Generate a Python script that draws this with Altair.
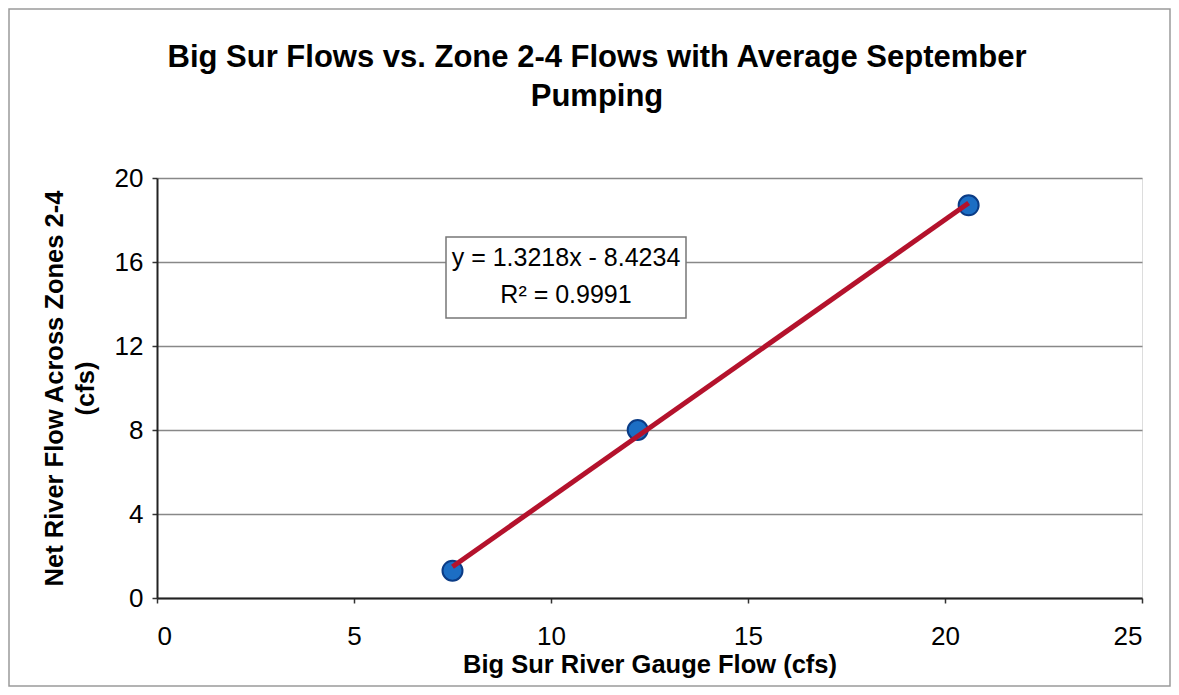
import altair as alt
import pandas as pd

# Data
gauge_flow = [7.5, 12.2, 20.6]          # Big Sur River Gauge Flow (cfs)
net_flow = [1.3, 8.0, 18.7]             # Net River Flow Across Zones 2-4 (cfs)
x_ticks = [0, 5, 10, 15, 20, 25]
y_ticks = [0, 4, 8, 12, 16, 20]
title_lines = ["Big Sur Flows vs. Zone 2-4 Flows with Average September", "Pumping"]
x_title = "Big Sur River Gauge Flow (cfs)"
y_title = ["Net River Flow Across Zones 2-4", "(cfs)"]
equation_lines = ["y = 1.3218x - 8.4234", "R\u00b2 = 0.9991"]

df = pd.DataFrame({"x": gauge_flow, "y": net_flow})
one = pd.DataFrame({"k": [0]})

FONT = "Liberation Sans"

xscale = alt.Scale(domain=[0, 25], nice=False, zero=False)
yscale = alt.Scale(domain=[0, 20], nice=False, zero=False)

xaxis = alt.Axis(values=x_ticks, title=x_title, grid=False,
                 labelFont=FONT, labelFontSize=26, labelColor="black",
                 labelPadding=20, tickSize=5, tickColor="#333333", tickWidth=1.5,
                 domainColor="#222222", domainWidth=2,
                 titleFont=FONT, titleFontSize=25.5, titleFontWeight="bold",
                 titleColor="black", titleBaseline="alphabetic", titleY=74)
yaxis = alt.Axis(values=y_ticks, title=y_title, grid=True,
                 gridColor="#888888", gridWidth=1.3,
                 labelFont=FONT, labelFontSize=26, labelColor="black",
                 labelPadding=9, tickSize=5, tickColor="#333333", tickWidth=1.5,
                 domainColor="#222222", domainWidth=2,
                 titleFont=FONT, titleFontSize=25.5, titleFontWeight="bold",
                 titleColor="black", titleBaseline="alphabetic",
                 titleAngle=270, titleAlign="center", titleX=-95, titleY=210,
                 titleLineHeight=31)

base = alt.Chart(df)

points = base.mark_point(filled=True, shape="circle", size=400,
                         fill="#1c6ec4", stroke="#0b3c86", strokeWidth=2,
                         opacity=1).encode(
    x=alt.X("x:Q", scale=xscale, axis=xaxis),
    y=alt.Y("y:Q", scale=yscale, axis=yaxis),
)

trend = base.transform_regression("x", "y", method="linear").mark_line(
    color="#b4122c", strokeWidth=5).encode(
    x=alt.X("x:Q", scale=xscale),
    y=alt.Y("y:Q", scale=yscale),
)

# Equation box (annotation)
box = alt.Chart(one).mark_rect(fill="white", stroke="#777777", strokeWidth=1.5).encode(
    x=alt.value(289), x2=alt.value(529), y=alt.value(59), y2=alt.value(140))

eq_text = alt.Chart(one).mark_text(
    text=equation_lines, font=FONT, fontSize=25, color="black",
    align="center", baseline="alphabetic", lineHeight=37).encode(
    x=alt.value(409), y=alt.value(88))

# Chart title
title = alt.Chart(one).mark_text(
    text=title_lines, font=FONT, fontSize=31, fontWeight="bold", color="black",
    align="center", baseline="alphabetic", lineHeight=39).encode(
    x=alt.value(440), y=alt.value(-111))

# Outer frame of the chart
frame = alt.Chart(one).mark_rect(fill=None, stroke="#9a9a9a", strokeWidth=1.5).encode(
    x=alt.value(-148), x2=alt.value(1013), y=alt.value(-169), y2=alt.value(508))

chart = alt.layer(frame, box, eq_text, points, trend, title).properties(
    width=985, height=420,
    padding={"left": 149, "top": 170, "right": 29, "bottom": 89},
    autosize=alt.AutoSizeParams(type="none"),
).configure_view(stroke="#6e6e6e", strokeWidth=2).configure(background="white")

chart.save("out.html", embed_options={"renderer": "svg", "actions": False})
